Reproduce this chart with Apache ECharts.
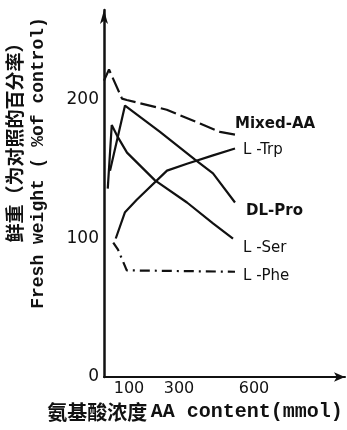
<!DOCTYPE html>
<html>
<head>
<meta charset="utf-8">
<script src="https://cdn.jsdelivr.net/npm/echarts@6/dist/echarts.min.js"></script>
<style>
  html, body { margin: 0; padding: 0; background: #fff; }
  #container { width: 347px; height: 430px; }
</style>
</head>
<body>
<div id="container"></div>
<script>
// values: [AA content (mmol), fresh weight (% of control)]
const mixedAA = [[0, 214], [20, 222], [72, 201], [91, 200], [251, 193], [384, 183], [464, 177], [524, 175]];
const dlPro   = [[24, 149], [84, 196], [224, 177], [364, 157], [436, 147], [524, 126]];
const lSer    = [[15, 136], [31, 182], [56, 173], [92, 162], [204, 142], [332, 126], [436, 111], [516, 100]];
const lTrp    = [[47, 100], [84, 119], [131, 128], [252, 149], [332, 154], [436, 160], [524, 165]];
const lPhe    = [[37, 97], [56, 92], [91, 77], [524, 76]];

const seriesNames = ['Mixed-AA', 'L -Trp', 'DL-Pro', 'L -Ser', 'L -Phe'];
const xTicks = [100, 300, 600];
const yTicks = [0, 100, 200];

let dom = document.getElementById('container');
let myChart = echarts.init(dom);

const ink = '#111';

function line(name, data, type, offset, bold) {
    return {
        name: name,
        type: 'line',
        data: data,
        symbol: 'none',
        smooth: false,
        silent: true,
        lineStyle: { color: ink, width: 2.2, type: type },
        endLabel: {
            show: true,
            formatter: '{a}',
            offset: offset,
            color: ink,
            fontFamily: 'DejaVu Sans',
            fontSize: 15,
            fontWeight: bold ? 'bold' : 'normal'
        }
    };
}

let option = {
    animation: false,
    backgroundColor: '#fff',
    grid: { left: 104, right: 2, top: 10, bottom: 53, containLabel: false },
    xAxis: {
        type: 'value',
        min: 0,
        max: 964,
        axisLine: {
            show: true, onZero: false,
            symbol: ['none', 'arrow'], symbolSize: [7, 11],
            lineStyle: { color: ink, width: 2 }
        },
        axisTick: { show: false },
        splitLine: { show: false },
        axisLabel: {
            customValues: xTicks,
            margin: 4,
            color: ink,
            fontFamily: 'DejaVu Sans',
            fontSize: 16
        }
    },
    yAxis: {
        type: 'value',
        min: 0,
        max: 265,
        axisLine: {
            show: true, onZero: false,
            symbol: ['none', 'arrow'], symbolSize: [6, 14],
            lineStyle: { color: ink, width: 2.5 }
        },
        axisTick: { show: false },
        splitLine: { show: false },
        axisLabel: {
            customValues: yTicks,
            margin: 5,
            color: ink,
            fontFamily: 'DejaVu Sans',
            fontSize: 17
        }
    },
    series: [
        line(seriesNames[0], mixedAA, [16, 5], [-8, -11], true),
        line(seriesNames[1], lTrp, 'solid', [0, 2], false),
        line(seriesNames[2], dlPro, 'solid', [3, 9], true),
        line(seriesNames[3], lSer, 'solid', [2, 10], false),
        line(seriesNames[4], lPhe, [10, 5, 2, 5], [0, 4], false)
    ],
    graphic: [
        {
            type: 'text',
            x: 15, y: 138,
            rotation: Math.PI / 2,
            style: {
                text: '鲜重（为对照的百分率）',
                fill: ink,
                font: 'bold 19px "Noto Sans CJK SC"',
                textAlign: 'center',
                textVerticalAlign: 'middle'
            }
        },
        {
            type: 'text',
            x: 38, y: 163,
            rotation: Math.PI / 2,
            style: {
                text: 'Fresh weight ( %of control)',
                fill: ink,
                font: 'bold 18px "Liberation Mono"',
                textAlign: 'center',
                textVerticalAlign: 'middle'
            }
        },
        {
            type: 'text',
            x: 195, y: 412,
            style: {
                text: '{a|氨基酸浓度} {b|AA content(mmol)}',
                textAlign: 'center',
                textVerticalAlign: 'middle',
                rich: {
                    a: { fill: ink, fontFamily: 'Noto Sans CJK SC', fontWeight: 'bold', fontSize: 20 },
                    b: { fill: ink, fontFamily: 'Liberation Mono', fontWeight: 'bold', fontSize: 20 }
                }
            }
        }
    ]
};
myChart.setOption(option);
</script>
</body>
</html>
